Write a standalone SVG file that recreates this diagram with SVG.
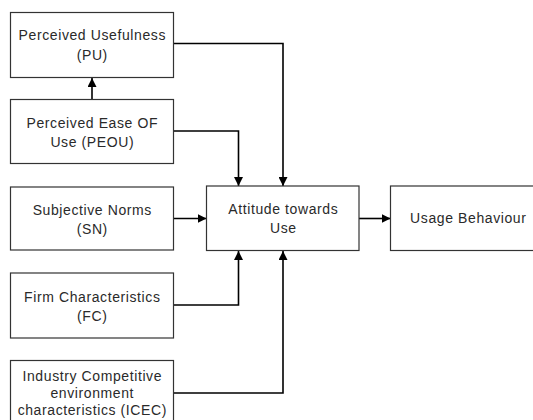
<svg xmlns="http://www.w3.org/2000/svg" width="533" height="420" viewBox="0 0 533 420">
<defs>
<marker id="ah" viewBox="0 0 10 10" refX="10" refY="5" markerWidth="9" markerHeight="9" markerUnits="userSpaceOnUse" orient="auto">
<path d="M0,0 L10,5 L0,10 Z" fill="#000"/>
</marker>
</defs>
<style>
.box{fill:#fff;stroke:#333;stroke-width:1.2}
.t{font-family:"Liberation Sans",Arial,sans-serif;font-size:14px;letter-spacing:0.6px;fill:#2a2a2a;text-anchor:middle}
.c{fill:none;stroke:#000;stroke-width:1.6;marker-end:url(#ah)}
</style>
<rect width="533" height="420" fill="#fff"/>
<g id="connectors">
<path class="c" d="M173.5,43.5 H283 V186"/>
<path class="c" d="M92,99 V78"/>
<path class="c" d="M173.5,131 H238.5 V186"/>
<path class="c" d="M173.5,218.5 H206.5"/>
<path class="c" d="M173.5,305 H238.5 V251"/>
<path class="c" d="M173.5,393 H283 V251"/>
<path class="c" d="M359,218.5 H390.5"/>
</g>
<g id="pu">
<rect class="box" x="10.5" y="12.5" width="163" height="65"/>
<text class="t" x="92.3" y="40">Perceived Usefulness</text>
<text class="t" x="92.3" y="60">(PU)</text>
</g>
<g id="peou">
<rect class="box" x="10.5" y="99.5" width="163" height="64"/>
<text class="t" x="92.3" y="127.5">Perceived Ease OF</text>
<text class="t" x="92.3" y="146.5">Use (PEOU)</text>
</g>
<g id="sn">
<rect class="box" x="10.5" y="187" width="163" height="63"/>
<text class="t" x="92.3" y="214.5">Subjective Norms</text>
<text class="t" x="92.3" y="233.5">(SN)</text>
</g>
<g id="fc">
<rect class="box" x="10.5" y="273" width="163" height="65"/>
<text class="t" x="92.3" y="301.5">Firm Characteristics</text>
<text class="t" x="92.3" y="320.5">(FC)</text>
</g>
<g id="icec">
<rect class="box" x="10.5" y="360.5" width="163" height="75"/>
<text class="t" x="92.3" y="381">Industry Competitive</text>
<text class="t" x="92.3" y="398">environment</text>
<text class="t" x="92.3" y="415">characteristics (ICEC)</text>
</g>
<g id="attitude">
<rect class="box" x="206.5" y="186" width="152.5" height="64.5"/>
<text class="t" x="283.3" y="214">Attitude towards</text>
<text class="t" x="283.3" y="233">Use</text>
</g>
<g id="usage">
<rect class="box" x="390.5" y="186" width="155" height="64.5"/>
<text class="t" x="468.3" y="223">Usage Behaviour</text>
</g>
</svg>
